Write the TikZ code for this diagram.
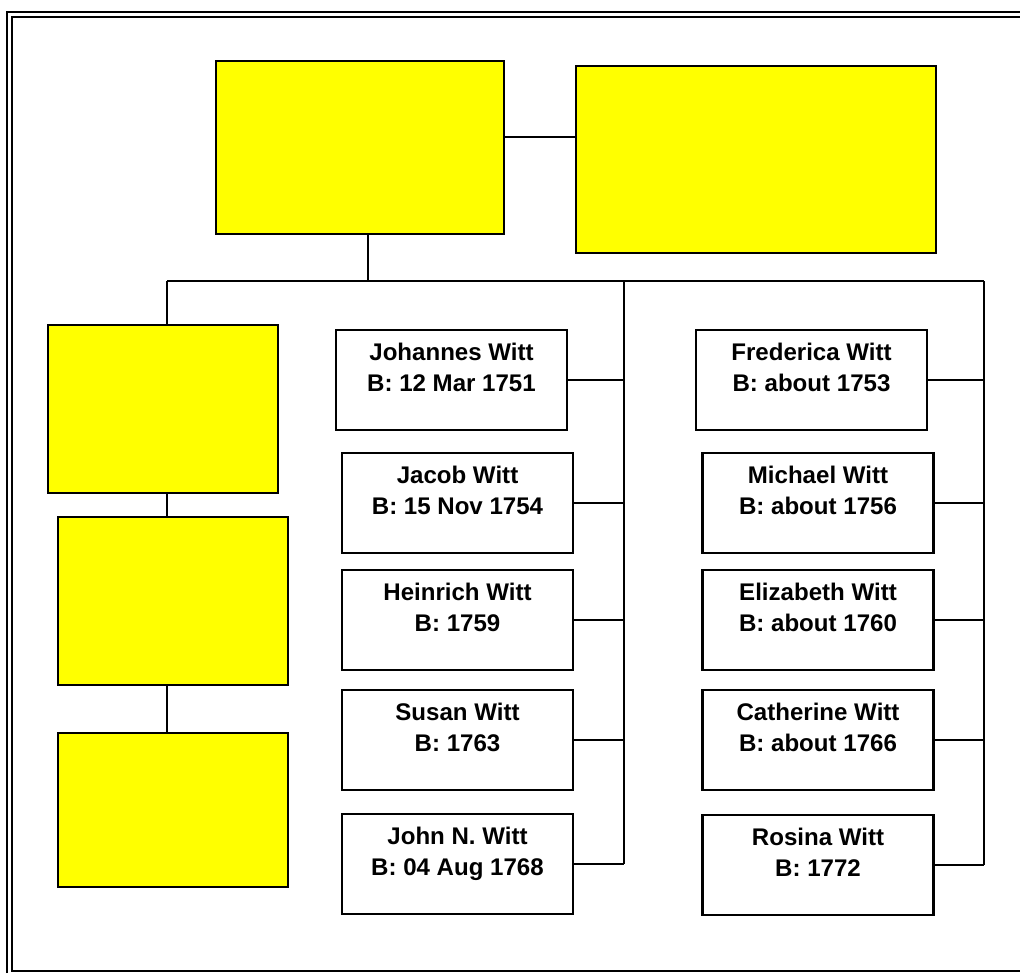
\documentclass[tikz,border=0pt]{standalone}
\usepackage{fontspec}
\setmainfont{Liberation Sans}
\definecolor{famyellow}{RGB}{255,255,0}

\begin{document}
\begin{tikzpicture}[x=0.02cm, y=-0.02cm, line width=1.2pt,
  anc/.style={draw, fill=famyellow, inner sep=0pt},
  kid/.style={draw, fill=white, inner sep=0pt, minimum width=4.62cm, minimum height=2cm},
  kidtext/.style={anchor=north, align=center, inner sep=0.27cm,
    font=\fontsize{13.7}{17.5}\selectfont\bfseries}]
  \useasboundingbox (0,0) rectangle (1020,973);

  % page frame, double on the left and top
  \draw (7,973) -- (7,12) -- (1020,12);
  \draw (1020,17) -- (12,17) -- (12,971) -- (1020,971);

  % parents
  \node[anc, minimum width=5.76cm, minimum height=3.46cm] (pa) at (360,147.5) {};
  \node[anc, minimum width=7.2cm, minimum height=3.74cm] (ma) at (756,159.5) {};
  \coordinate (wed) at (540,137);
  \draw (wed -| pa.east) -- (wed -| ma.west);

  % line of the children
  \coordinate (drop) at (368,281);
  \coordinate (busL) at (167,281);
  \coordinate (busM) at (624,281);
  \coordinate (busR) at (984,281);
  \draw (drop |- pa.south) -- (drop);
  \draw (busL) -- (busR);

  % left column, one below the other
  \node[anc, minimum width=4.6cm, minimum height=3.36cm] (la) at (163,409) {};
  \node[anc, minimum width=4.6cm, minimum height=3.36cm] (lb) at (173,601) {};
  \node[anc, minimum width=4.6cm, minimum height=3.08cm] (lc) at (173,810) {};
  \draw (busL) -- (busL |- la.north);
  \draw (busL |- la.south) -- (busL |- lb.north);
  \draw (busL |- lb.south) -- (busL |- lc.north);

  % middle column
  \node[kid, label={[kidtext]north:Johannes Witt\\B: 12 Mar 1751}] (johannes) at (451.5,380) {};
  \node[kid, label={[kidtext]north:Jacob Witt\\B: 15 Nov 1754}] (jacob) at (457.5,503) {};
  \node[kid, label={[kidtext]north:Heinrich Witt\\B: 1759}] (heinrich) at (457.5,620) {};
  \node[kid, label={[kidtext]north:Susan Witt\\B: 1763}] (susan) at (457.5,740) {};
  \node[kid, label={[kidtext]north:John N. Witt\\B: 04 Aug 1768}] (john) at (457.5,864) {};
  \draw (busM) -- (busM |- john.east);
  \draw (johannes.east) -- (johannes.east -| busM);
  \draw (jacob.east) -- (jacob.east -| busM);
  \draw (heinrich.east) -- (heinrich.east -| busM);
  \draw (susan.east) -- (susan.east -| busM);
  \draw (john.east) -- (john.east -| busM);

  % right column
  \node[kid, label={[kidtext]north:Frederica Witt\\B: about 1753}] (frederica) at (811.5,380) {};
  \node[kid, label={[kidtext]north:Michael Witt\\B: about 1756}] (michael) at (818,503) {};
  \node[kid, label={[kidtext]north:Elizabeth Witt\\B: about 1760}] (elizabeth) at (818,620) {};
  \node[kid, label={[kidtext]north:Catherine Witt\\B: about 1766}] (catherine) at (818,740) {};
  \node[kid, label={[kidtext]north:Rosina Witt\\B: 1772}] (rosina) at (818,865) {};
  \draw (busR) -- (busR |- rosina.east);
  \draw (frederica.east) -- (frederica.east -| busR);
  \draw (michael.east) -- (michael.east -| busR);
  \draw (elizabeth.east) -- (elizabeth.east -| busR);
  \draw (catherine.east) -- (catherine.east -| busR);
  \draw (rosina.east) -- (rosina.east -| busR);
\end{tikzpicture}
\end{document}
